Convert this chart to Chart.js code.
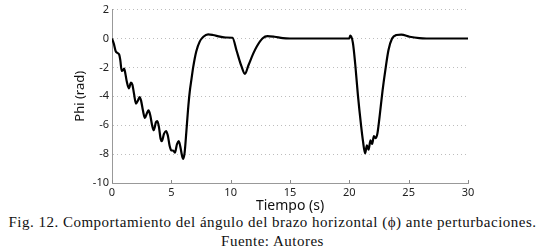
<!DOCTYPE html>
<html lang="es">
<head>
  <meta charset="UTF-8">
  <title>Phi vs tiempo</title>
  <script src="https://cdn.jsdelivr.net/npm/chart.js"></script>
  <style>
    body { margin: 0; background: #fff; width: 550px; }
    canvas { display: block; }
    .caption {
      font-family: 'Liberation Serif', serif;
      font-size: 15px;
      line-height: 19px;
      letter-spacing: 0.5px;
      color: #111;
      text-align: center;
      padding-right: 5px;
      white-space: nowrap;
    }
  </style>
</head>
<body>
  <canvas id="chart" width="550" height="213"></canvas>
  <div class="caption" id="caption"></div>

  <script>
    // valores
    const timeS = [
      0, 0.15, 0.3, 0.45, 0.6, 0.7, 0.82, 0.92, 1.02, 1.12,
      1.25, 1.42, 1.6, 1.72, 1.85, 2.02, 2.18, 2.32, 2.45, 2.6,
      2.77, 2.95, 3.08, 3.22, 3.38, 3.52, 3.7, 3.82, 3.95, 4.1,
      4.2, 4.38, 4.55, 4.7, 4.85, 5.0, 5.15, 5.3, 5.48, 5.62,
      5.75, 5.9, 6.0, 6.12, 6.27, 6.4, 6.55, 6.7, 6.85, 7.1,
      7.4, 7.7, 8.1, 8.5, 9.1, 9.6, 10.15, 10.5, 10.9, 11.2,
      11.5, 11.9, 12.2, 12.7, 13.1, 13.7, 14.4, 15, 20, 20.08,
      20.3, 20.5, 20.72, 21.0, 21.15, 21.33, 21.48, 21.62, 21.78, 21.92,
      22.07, 22.2, 22.36, 22.55, 22.8, 23.05, 23.3, 23.6, 23.96, 24.38,
      25.08, 25.9, 26.5, 30
    ];
    const phiRad = [
      0, -0.35, -0.85, -1.0, -1.1, -1.5, -2.25, -2.2, -2.08, -2.4,
      -3.0, -3.45, -3.05, -3.2, -3.8, -4.5, -4.3, -4.05, -4.3, -4.95,
      -5.5, -5.15, -4.98, -5.3, -6.0, -6.35, -5.8, -5.72, -6.1, -6.95,
      -7.1, -6.6, -6.4, -6.7, -7.4, -7.75, -7.75, -7.9, -7.3, -7.1,
      -7.45, -8.1, -8.33, -7.9, -6.4, -5.0, -3.7, -2.8, -1.95, -0.9,
      -0.2, 0.12, 0.28, 0.24, 0.13, 0.07, 0.05, -0.85, -1.9, -2.45,
      -1.85, -1.05, -0.55, 0.02, 0.17, 0.12, 0.02, 0, 0, 0.2,
      -0.3, -1.8, -3.9, -6.1, -7.1, -7.95, -7.4, -7.7, -7.05, -7.3,
      -6.75, -6.9, -6.6, -5.4, -3.6, -2.1, -0.8, 0.0, 0.24, 0.27,
      0.12, 0.02, 0, 0
    ];
    const xTitle = "Tiempo (s)";
    const yTitle = "Phi (rad)";
    const caption = [
      "Fig. 12. Comportamiento del ángulo del brazo horizontal (\u03d5) ante perturbaciones.",
      "Fuente: Autores"
    ];

    document.getElementById("caption").innerHTML =
      caption.map(l => "<div>" + l + "</div>").join("");

    const sans = "'Noto Sans', 'DejaVu Sans', sans-serif";

    // marcas de los ticks del eje x hacia dentro
    const innerTicks = {
      id: "innerTicks",
      afterDraw(chart) {
        const ctx = chart.ctx;
        const xs = chart.scales.x;
        const bottom = chart.chartArea.bottom;
        ctx.save();
        ctx.strokeStyle = "#888";
        ctx.lineWidth = 1;
        xs.ticks.forEach(t => {
          const px = Math.round(xs.getPixelForValue(t.value)) + 0.5;
          ctx.beginPath();
          ctx.moveTo(px, bottom);
          ctx.lineTo(px, bottom - 3);
          ctx.stroke();
        });
        ctx.restore();
      }
    };

    new Chart(document.getElementById("chart"), {
      type: "line",
      data: {
        datasets: [{
          data: timeS.map((t, i) => ({ x: t, y: phiRad[i] })),
          borderColor: "#000",
          borderWidth: 2.2,
          pointRadius: 0,
          cubicInterpolationMode: "monotone",
          fill: false
        }]
      },
      options: {
        responsive: false,
        animation: false,
        devicePixelRatio: 1,
        layout: { padding: { left: 72, right: 82, top: 6, bottom: 0 } },
        plugins: {
          legend: { display: false },
          tooltip: { enabled: false }
        },
        scales: {
          x: {
            type: "linear",
            min: 0,
            max: 30,
            afterFit: s => { s.height = 30; },
            ticks: { stepSize: 5, color: "#222", padding: 3, font: { family: sans, size: 11 }, maxRotation: 0 },
            grid: { display: false, drawTicks: false },
            border: { display: true, color: "#999", width: 1 },
            title: { display: true, text: xTitle, color: "#111", padding: 0, font: { family: sans, size: 14, lineHeight: 1 } }
          },
          y: {
            min: -10,
            max: 2,
            afterFit: s => { s.width = 40; },
            ticks: { stepSize: 2, color: "#222", padding: 3, font: { family: sans, size: 11 } },
            grid: { color: "#bdbdbd", lineWidth: 1, drawTicks: false },
            border: { display: true, color: "#999", width: 1, dash: [1, 3] },
            title: { display: true, text: yTitle, color: "#111", padding: 2, font: { family: sans, size: 13, lineHeight: 1 } }
          }
        }
      },
      plugins: [innerTicks]
    });
  </script>
</body>
</html>
